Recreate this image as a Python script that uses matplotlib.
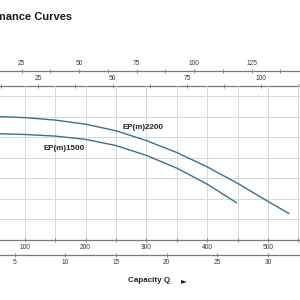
import matplotlib
matplotlib.use("Agg")
import matplotlib.pyplot as plt
import numpy as np

plt.rcParams['font.family'] = ['Liberation Sans', 'DejaVu Sans']

# Data (capacity in L/min, head in m)
q_2200 = [0, 50, 100, 150, 200, 250, 300, 350, 400, 450, 500, 535]
h_2200 = [30.2, 30.1, 29.8, 29.2, 28.2, 26.6, 24.2, 21.3, 17.8, 13.8, 9.4, 6.4]
q_1500 = [0, 50, 100, 150, 200, 250, 300, 350, 400, 449]
h_1500 = [26.0, 25.9, 25.7, 25.3, 24.5, 23.0, 20.6, 17.5, 13.6, 9.0]
series_names = ["EP(m)2200", "EP(m)1500"]

# unit conversion factors (L/min per unit)
LPM_PER_GPM = 3.785
LPM_PER_TOP2 = 4.89
LPM_PER_M3H = 16.67

top1_ticks = [25, 50, 75, 100, 125]
top2_ticks = [25, 50, 75, 100]
bot1_ticks = [100, 200, 300, 400, 500]
bot2_ticks = [5, 10, 15, 20, 25, 30]

curve_color = '#3b6f8c'
axis_color = '#7a7a7a'
label_color = '#3a3a3a'
grid_color = '#d8d8d8'

fig = plt.figure(figsize=(3, 3), dpi=100)
W = 300.0
x0_px = -36.0
px_per_lpm = 60.8 / 100
xmax = 600
ax = fig.add_axes([x0_px / W, 60 / W, xmax * px_per_lpm / W, 154 / W])
ax.set_xlim(0, xmax)
ax.set_ylim(0, 37.5)

ax.plot(q_2200, h_2200, color=curve_color, lw=1.0, solid_capstyle='butt')
ax.plot(q_1500, h_1500, color=curve_color, lw=1.0, solid_capstyle='butt')

ax.set_yticks(np.arange(0, 37.5, 5))
ax.grid(True, color=grid_color, lw=0.7)
ax.set_axisbelow(True)
for s in ['top', 'left', 'right']:
    ax.spines[s].set_visible(False)
ax.spines['bottom'].set_color(axis_color)
ax.spines['bottom'].set_linewidth(0.9)
ax.tick_params(axis='y', left=False, labelleft=False)
ax.set_xticks(bot1_ticks)
ax.set_xticks(np.arange(50, xmax + 1, 100), minor=True)
ax.tick_params(axis='x', which='both', direction='inout', length=3, width=0.6,
               color=axis_color, labelsize=4.8, labelcolor=label_color, pad=1.5)
ax.grid(True, which='minor', axis='x', color=grid_color, lw=0.7)

def add_sec(loc, fac, ticks, minor):
    sec = ax.secondary_xaxis(loc, functions=(lambda x, f=fac: x / f, lambda x, f=fac: x * f))
    sec.set_xticks(ticks)
    if minor:
        sec.set_xticks([t - 12.5 for t in ticks] + [ticks[-1] + 12.5], minor=True)
    else:
        sec.set_xticks([], minor=True)
    for s in sec.spines.values():
        s.set_color(axis_color)
        s.set_linewidth(0.9)
    sec.tick_params(which='both', direction='inout', length=3, width=0.6,
                    color=axis_color, labelsize=4.8, labelcolor=label_color, pad=1.5)
    return sec

off = 15 / 154
add_sec(1 + off, LPM_PER_GPM, top1_ticks, True)
add_sec(1.0, LPM_PER_TOP2, top2_ticks, True)
add_sec(-off, LPM_PER_M3H, bot2_ticks, False)

ax.text(260, 27.3, series_names[0], fontsize=5.8, fontweight='bold', color='#222222',
        ha='left', va='center')
ax.text(130, 22.2, series_names[1], fontsize=5.8, fontweight='bold', color='#222222',
        ha='left', va='center')

fig.text(72 / W, 1 - 17 / W, "Performance Curves", fontsize=8, fontweight='bold',
         color='#1a1a1a', ha='right', va='center')
fig.text(128 / W, 1 - 281 / W, "Capacity Q", fontsize=5.8, fontweight='bold',
         color='#222222', ha='left', va='center')
fig.text(181 / W, 1 - 281 / W, "\u25ba", fontsize=5.5, color='#222222',
         ha='left', va='center', family=['DejaVu Sans'])

fig.savefig('out.png', dpi=100)
